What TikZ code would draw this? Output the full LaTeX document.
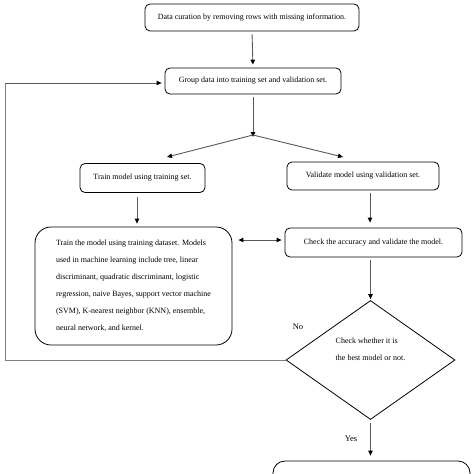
\documentclass[tikz,border=0pt]{standalone}
\usepackage{fontspec}
\setmainfont{Liberation Serif}
\usetikzlibrary{shapes.geometric,arrows.meta}
\begin{document}
\begin{tikzpicture}[x=1pt,y=-1pt,
  box/.style={draw=black,line width=0.8pt,rounded corners=5pt,inner sep=0pt,align=center,
    font=\fontsize{8}{17}\selectfont},
  conn/.style={draw=black!65,line width=0.9pt,-{Triangle[length=5pt,width=4.5pt,fill=black,color=black]}},
  lbl/.style={font=\fontsize{8.5}{10}\selectfont,inner sep=0pt}]
\useasboundingbox (0,0) rectangle (474,474);
\clip (0,0) rectangle (474,474);
\node[box,minimum width=214pt,minimum height=27pt] (b1) at (252,17.5) {Data curation by removing rows with missing information.};
\node[box,minimum width=176pt,minimum height=26pt] (b2) at (253,81) {Group data into training set and validation set.};
\node[box,minimum width=125pt,minimum height=29pt] (b3) at (142.5,178) {Train model using training set.};
\node[box,minimum width=152pt,minimum height=28pt] (b4) at (363,176) {Validate model using validation set.};
\node[box,rounded corners=16pt,minimum width=197pt,minimum height=118pt,align=left] (b5) at (133.5,286)
  {Train the model using training dataset. Models\\used in machine learning include tree, linear\\discriminant, quadratic discriminant, logistic\\regression, naive Bayes, support vector machine\\(SVM), K-nearest neighbor (KNN), ensemble,\\neural network, and kernel.};
\node[box,minimum width=177pt,minimum height=29pt] (b6) at (373.5,242.5) {Check the accuracy and validate the model.};
\node[draw=black,line width=0.8pt,diamond,minimum width=169pt,minimum height=119pt,inner sep=0pt,align=left,
  font=\fontsize{8}{17}\selectfont] (d) at (370.5,360) {Check whether it is\\the best model or not.\\[4pt]};
\node[box,rounded corners=12pt,minimum width=197pt,minimum height=40pt] (b7) at (371.5,481) {};
\coordinate (split) at (253,135);
\coordinate (tl) at (167,157);
\coordinate (tr) at (343,157);
\coordinate (lb) at (5,360);
\coordinate (lt) at (5,83);
\node[lbl] (no) at (298,327) {No};
\node[lbl] (yes) at (351,439) {Yes};
\draw[conn,shorten <=3pt,shorten >=3pt] (b1.south) -- (b2.north);
\draw[conn,shorten <=3pt] (b2.south) -- ([yshift=-2pt]split);
\draw[conn] (split) -- (tl);
\draw[conn] (split) -- (tr);
\draw[conn,shorten <=4pt,shorten >=3pt] ([xshift=-5.5pt]b3.south) -- ([xshift=-5.5pt]b3.south |- b5.north);
\draw[conn,shorten <=3pt,shorten >=5pt] ([xshift=7pt]b4.south) -- ([xshift=7pt]b4.south |- b6.north);
\draw[conn,shorten <=3pt,shorten >=1pt] ([xshift=-3pt]b6.south) -- (d.north);
\draw[conn,shorten <=3pt,shorten >=5pt] (d.south) -- (d.south |- b7.north);
\draw[conn,{Triangle[length=5pt,width=4.5pt,fill=black,color=black]}-{Triangle[length=5pt,width=4.5pt,fill=black,color=black]},shorten <=6pt,shorten >=3pt] ([yshift=2.5pt]b5.east |- b6.west) -- ([yshift=2.5pt]b6.west);
\draw[draw=black!50,line width=0.9pt] (d.west) -- (lb) -- (lt);
\draw[conn,shorten >=3pt] (lt) -- (lt -| b2.west);
\end{tikzpicture}
\end{document}
